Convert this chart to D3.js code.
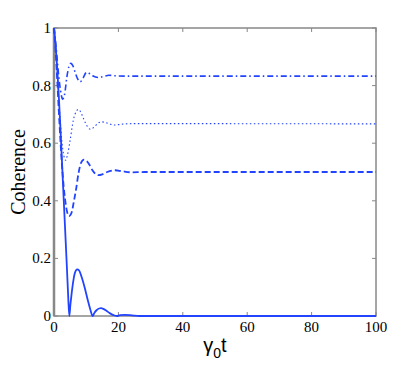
<!DOCTYPE html>
<html>
<head>
<meta charset="utf-8">
<script src="https://cdn.jsdelivr.net/npm/d3@7/dist/d3.min.js"></script>
<style>
  body { margin: 0; background: #fff; }
</style>
</head>
<body>
<div id="chart"></div>
<script>
// values: [time, coherence]
var solidPts = [[0,1],[0.5,0.94],[1,0.86],[1.5,0.76],[2,0.65],[2.5,0.53],[3,0.41],[3.5,0.29],[4,0.17],[4.4,0.07],[4.75,0],
  [5.1,0.04],[5.5,0.08],[6,0.122],[6.5,0.15],[7.2,0.162],[7.8,0.158],[8.5,0.138],[9.5,0.1],[10.5,0.055],[11.3,0.022],[12,0],
  [12.5,0.01],[13.2,0.02],[14,0.026],[14.6,0.027],[15.3,0.025],[16.3,0.018],[17.3,0.01],[18.5,0.003],[19.5,0],
  [20.5,0.003],[22,0.004],[23.5,0.003],[25,0.001],[26.5,0],[100,0]];

var dashDotPts = [[0,1],[0.5,0.95],[1,0.89],[1.5,0.83],[2,0.785],[2.7,0.753],[3.3,0.77],[4,0.83],[4.6,0.865],[5.2,0.877],
  [5.8,0.87],[6.5,0.848],[7.3,0.824],[8.1,0.813],[9,0.826],[10.1,0.846],[11,0.842],[12,0.834],[13.8,0.828],[15.5,0.832],
  [17,0.836],[19,0.834],[22,0.833],[100,0.833]];

var dottedPts = [[0,1],[0.5,0.93],[1,0.84],[1.5,0.75],[2,0.67],[2.5,0.6],[3,0.56],[3.6,0.541],[4.2,0.56],[5,0.61],
  [6,0.68],[7,0.712],[7.5,0.717],[8.2,0.71],[9,0.69],[10,0.665],[11.2,0.649],[12.5,0.656],[13.5,0.668],[14.8,0.674],
  [16,0.672],[17.5,0.666],[19,0.663],[21,0.666],[25,0.668],[100,0.667]];

var dashedPts = [[0,1],[0.5,0.92],[1,0.82],[1.5,0.71],[2,0.61],[2.5,0.52],[3,0.45],[3.5,0.4],[4,0.365],[4.7,0.347],
  [5.5,0.36],[6.2,0.4],[6.8,0.436],[7.6,0.495],[8.4,0.532],[9.3,0.543],[10.2,0.538],[11,0.525],[12,0.505],[13,0.492],
  [13.8,0.489],[15,0.492],[16.5,0.5],[18,0.505],[19,0.506],[21,0.503],[24,0.499],[28,0.5],[100,0.5]];

var xTicks = [0, 20, 40, 60, 80, 100];
var yTicks = [0, 0.2, 0.4, 0.6, 0.8, 1];

var W = 415, H = 365;
var mLeft = 54, mRight = 376, mTop = 28, mBottom = 316;
var blue = "#2244ff";

var svg = d3.select("#chart").append("svg")
  .attr("width", W)
  .attr("height", H);

var x = d3.scaleLinear().domain([0, 100]).range([mLeft, mRight]);
var y = d3.scaleLinear().domain([0, 1]).range([mBottom, mTop]);

var line = d3.line()
  .x(function(d){ return x(d[0]); })
  .y(function(d){ return y(d[1]); })
  .curve(d3.curveMonotoneX);

// frame
svg.append("rect")
  .attr("x", mLeft).attr("y", mTop)
  .attr("width", mRight - mLeft).attr("height", mBottom - mTop)
  .attr("fill", "none")
  .attr("stroke", "#888")
  .attr("stroke-width", 1.5);

svg.append("line")
  .attr("x1", mLeft).attr("x2", mLeft)
  .attr("y1", mTop).attr("y2", mBottom)
  .attr("stroke", "#888")
  .attr("stroke-width", 2.5);

// inward ticks on all sides
var tk = 4;
xTicks.forEach(function(t){
  svg.append("line").attr("x1", x(t)).attr("x2", x(t)).attr("y1", mBottom).attr("y2", mBottom - tk)
    .attr("stroke", "#888");
  svg.append("line").attr("x1", x(t)).attr("x2", x(t)).attr("y1", mTop).attr("y2", mTop + tk)
    .attr("stroke", "#888");
});
yTicks.forEach(function(t){
  svg.append("line").attr("x1", mLeft).attr("x2", mLeft + tk).attr("y1", y(t)).attr("y2", y(t))
    .attr("stroke", "#888");
  svg.append("line").attr("x1", mRight).attr("x2", mRight - tk).attr("y1", y(t)).attr("y2", y(t))
    .attr("stroke", "#888");
});

// tick labels
svg.append("g").selectAll("text")
  .data(xTicks).enter().append("text")
  .attr("x", function(d){ return x(d); })
  .attr("y", 332)
  .attr("text-anchor", "middle")
  .style("font-family", "'Liberation Serif', 'Times New Roman', serif")
  .style("font-size", "15px")
  .text(function(d){ return d; });

svg.append("g").selectAll("text")
  .data(yTicks).enter().append("text")
  .attr("x", mLeft - 3)
  .attr("y", function(d){ return y(d) + 5; })
  .attr("text-anchor", "end")
  .style("font-family", "'Liberation Serif', 'Times New Roman', serif")
  .style("font-size", "15px")
  .text(function(d){ return d; });

// curves
var series = [
  { pts: dashedPts,  width: 1.8, dash: "6,3" },
  { pts: dottedPts,  width: 1.1, dash: "1.5,2.5" },
  { pts: dashDotPts, width: 1.6, dash: "6,3,1.5,3" },
  { pts: solidPts,   width: 1.8, dash: null }
];

series.forEach(function(s){
  svg.append("path")
    .datum(s.pts)
    .attr("d", line)
    .attr("fill", "none")
    .attr("stroke", blue)
    .attr("stroke-width", s.width)
    .attr("stroke-dasharray", s.dash);
});

// axis titles
svg.append("text")
  .attr("transform", "translate(25," + ((mTop + mBottom) / 2) + ") rotate(-90)")
  .attr("text-anchor", "middle")
  .style("font-family", "'Liberation Serif', 'Times New Roman', serif")
  .style("font-size", "20px")
  .text("Coherence");

var xl = svg.append("text")
  .attr("x", (mLeft + mRight) / 2)
  .attr("y", 352)
  .attr("text-anchor", "middle")
  .style("font-family", "'Liberation Sans', Arial, sans-serif")
  .style("font-size", "20px");
xl.append("tspan").text("γ");
xl.append("tspan").attr("dy", 6).style("font-size", "14px").text("0");
xl.append("tspan").attr("dy", -6).text("t");
</script>
</body>
</html>
